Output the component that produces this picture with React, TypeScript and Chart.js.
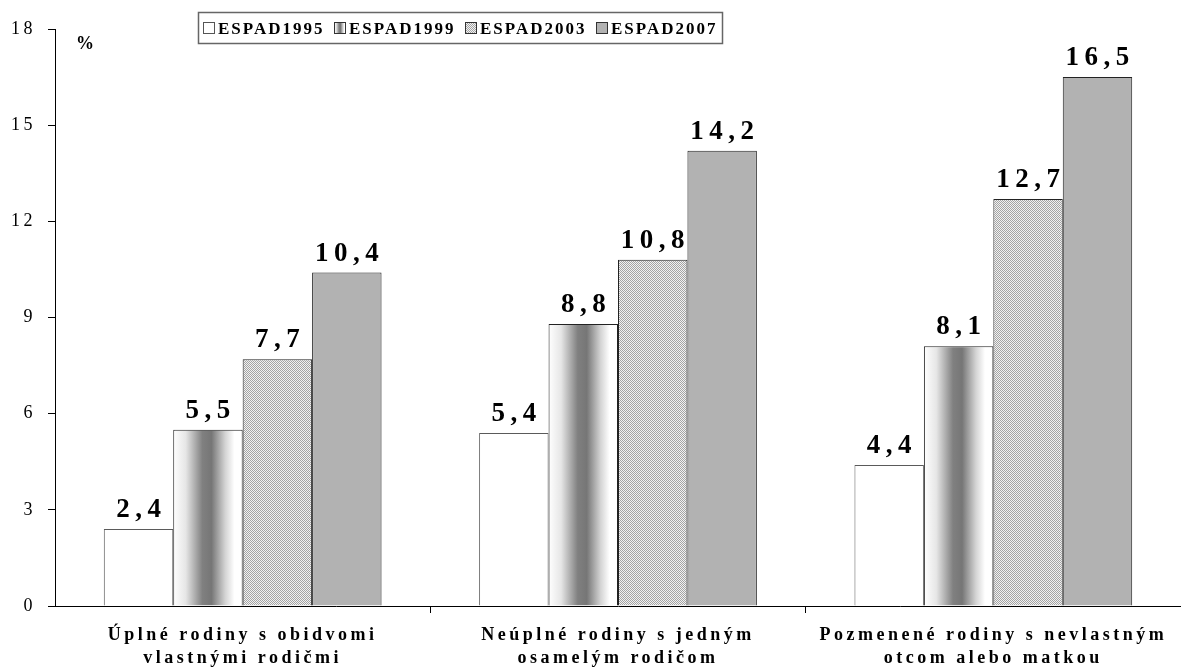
import React, { useEffect, useRef } from 'react';
import { Chart, registerables } from 'chart.js';

Chart.register(...registerables);

const categories: string[][] = [
  ['Úplné rodiny s obidvomi', 'vlastnými rodičmi'],
  ['Neúplné rodiny s jedným', 'osamelým rodičom'],
  ['Pozmenené rodiny s nevlastným', 'otcom alebo matkou'],
];
const seriesNames = ['ESPAD1995', 'ESPAD1999', 'ESPAD2003', 'ESPAD2007'];
const espad1995 = [2.4, 5.4, 4.4];
const espad1999 = [5.5, 8.8, 8.1];
const espad2003 = [7.7, 10.8, 12.7];
const espad2007 = [10.4, 14.2, 16.5];
const yMin = 0;
const yMax = 18;
const yStep = 3;
const unitLabel = '%';

const SERIF = '"Liberation Serif", "Times New Roman", serif';
const CAT_PCT = 0.74;

function fmt(v: number) {
  return v.toFixed(1).replace('.', ',');
}

function addStops(g: CanvasGradient) {
  g.addColorStop(0, '#ffffff');
  g.addColorStop(0.18, '#e6e6e6');
  g.addColorStop(0.42, '#808080');
  g.addColorStop(0.55, '#767676');
  g.addColorStop(0.75, '#d4d4d4');
  g.addColorStop(0.88, '#ffffff');
  g.addColorStop(1, '#ffffff');
  return g;
}

function makeDotPattern(): CanvasPattern | string {
  const c = document.createElement('canvas');
  c.width = 4;
  c.height = 4;
  const x = c.getContext('2d');
  if (!x) return '#cccccc';
  x.fillStyle = '#f2f2f2';
  x.fillRect(0, 0, 4, 4);
  x.fillStyle = '#a4a4a4';
  const pts = [[0, 0], [2, 0], [1, 1], [3, 1], [0, 2], [2, 2], [1, 3], [3, 3]];
  pts.forEach(([a, b]) => x.fillRect(a, b, 1, 1));
  const p = x.createPattern(c, 'repeat');
  return p || '#cccccc';
}

export default function App() {
  const ref = useRef<HTMLCanvasElement | null>(null);

  useEffect(() => {
    const canvas = ref.current;
    if (!canvas) return;
    const dots = makeDotPattern();

    const grad1999 = (ctx: any) => {
      const chart = ctx.chart;
      const xs = chart.scales && chart.scales.x;
      if (ctx.type !== 'data' || !xs || !chart.chartArea) return '#b0b0b0';
      const cat = xs.width / categories.length;
      const bw = (cat * CAT_PCT) / seriesNames.length;
      const c = xs.getPixelForValue(ctx.dataIndex) + (1 - 1.5) * bw;
      return addStops(chart.ctx.createLinearGradient(c - bw / 2, 0, c + bw / 2, 0));
    };

    const overlay = {
      id: 'overlay',
      beforeDraw(chart: any) {
        chart.ctx.letterSpacing = '3.5px';
      },
      afterDraw(chart: any) {
        const ctx = chart.ctx;
        ctx.save();
        // value labels
        const sp = 5.5;
        ctx.letterSpacing = sp + 'px';
        ctx.font = 'bold 27px ' + SERIF;
        ctx.fillStyle = '#000';
        ctx.textAlign = 'center';
        ctx.textBaseline = 'alphabetic';
        chart.data.datasets.forEach((ds: any, di: number) => {
          const meta = chart.getDatasetMeta(di);
          meta.data.forEach((el: any, i: number) => {
            ctx.fillText(fmt(ds.data[i]), el.x + sp / 2, el.y - 12);
          });
        });
        // unit
        ctx.letterSpacing = '0px';
        ctx.font = 'bold 18px ' + SERIF;
        ctx.textAlign = 'left';
        ctx.fillText(unitLabel, 76, 49);
        // legend
        const bx = 198, by = 12, bwid = 524, bh = 31;
        ctx.fillStyle = '#fff';
        ctx.fillRect(bx, by, bwid, bh);
        ctx.strokeStyle = '#666';
        ctx.lineWidth = 1.5;
        ctx.strokeRect(bx + 0.5, by + 0.5, bwid, bh);
        ctx.font = 'bold 17px ' + SERIF;
        ctx.letterSpacing = '2px';
        ctx.textBaseline = 'alphabetic';
        let x = 203;
        seriesNames.forEach((name, k) => {
          const sy = 22;
          const ss = 12;
          let fill: any = '#fff';
          if (k === 1) fill = addStops(ctx.createLinearGradient(x, 0, x + ss, 0));
          if (k === 2) fill = dots;
          if (k === 3) fill = '#b2b2b2';
          ctx.fillStyle = fill;
          ctx.fillRect(x, sy, ss, ss);
          ctx.strokeStyle = k === 0 ? '#555' : '#333';
          ctx.lineWidth = 1;
          ctx.strokeRect(x + 0.5, sy + 0.5, ss - 1, ss - 1);
          ctx.fillStyle = '#000';
          ctx.fillText(name, x + 15, 34);
          x += 131;
        });
        ctx.restore();
        ctx.letterSpacing = '0px';
      },
    };

    const chart = new Chart(canvas, {
      type: 'bar',
      data: {
        labels: categories,
        datasets: [
          { label: seriesNames[0], data: espad1995, backgroundColor: '#ffffff', borderColor: '#5a5a5a', borderWidth: 1 },
          { label: seriesNames[1], data: espad1999, backgroundColor: grad1999, borderColor: '#222', borderWidth: 1 },
          { label: seriesNames[2], data: espad2003, backgroundColor: dots as any, borderColor: '#222', borderWidth: 1 },
          { label: seriesNames[3], data: espad2007, backgroundColor: '#b2b2b2', borderColor: '#222', borderWidth: 1 },
        ],
      },
      options: {
        responsive: false,
        animation: false,
        devicePixelRatio: 1,
        layout: { padding: { top: 29, right: 0, bottom: 0, left: 0 } },
        datasets: { bar: { categoryPercentage: CAT_PCT, barPercentage: 1 } },
        plugins: { legend: { display: false }, tooltip: { enabled: false } },
        scales: {
          x: {
            offset: true,
            grid: {
              offset: true,
              drawOnChartArea: false,
              drawTicks: true,
              tickLength: 7,
              color: (c: any) => (c.index === 0 ? 'rgba(0,0,0,0)' : '#000'),
            },
            border: { display: true, color: '#000', width: 1 },
            ticks: {
              autoSkip: false,
              maxRotation: 0,
              minRotation: 0,
              padding: 11,
              color: '#000',
              font: { family: SERIF, size: 18, weight: 'bold', lineHeight: 1.28 },
            },
            afterFit: (s: any) => {
              s.height = 62;
            },
          },
          y: {
            min: yMin,
            max: yMax,
            grid: { drawOnChartArea: false, drawTicks: true, tickLength: 7, color: '#000' },
            border: { display: true, color: '#000', width: 1 },
            ticks: {
              stepSize: yStep,
              padding: 12,
              color: '#000',
              font: { family: SERIF, size: 18 },
            },
            afterFit: (s: any) => {
              s.width = 55;
            },
          },
        },
      },
      plugins: [overlay],
    } as any);

    return () => chart.destroy();
  }, []);

  return (
    <div style={{ position: 'absolute', left: 0, top: 0, width: 1181, height: 668, overflow: 'hidden', background: '#fff' }}>
      <canvas ref={ref} width={1181} height={668} style={{ width: 1181, height: 668, display: 'block' }} />
    </div>
  );
}
